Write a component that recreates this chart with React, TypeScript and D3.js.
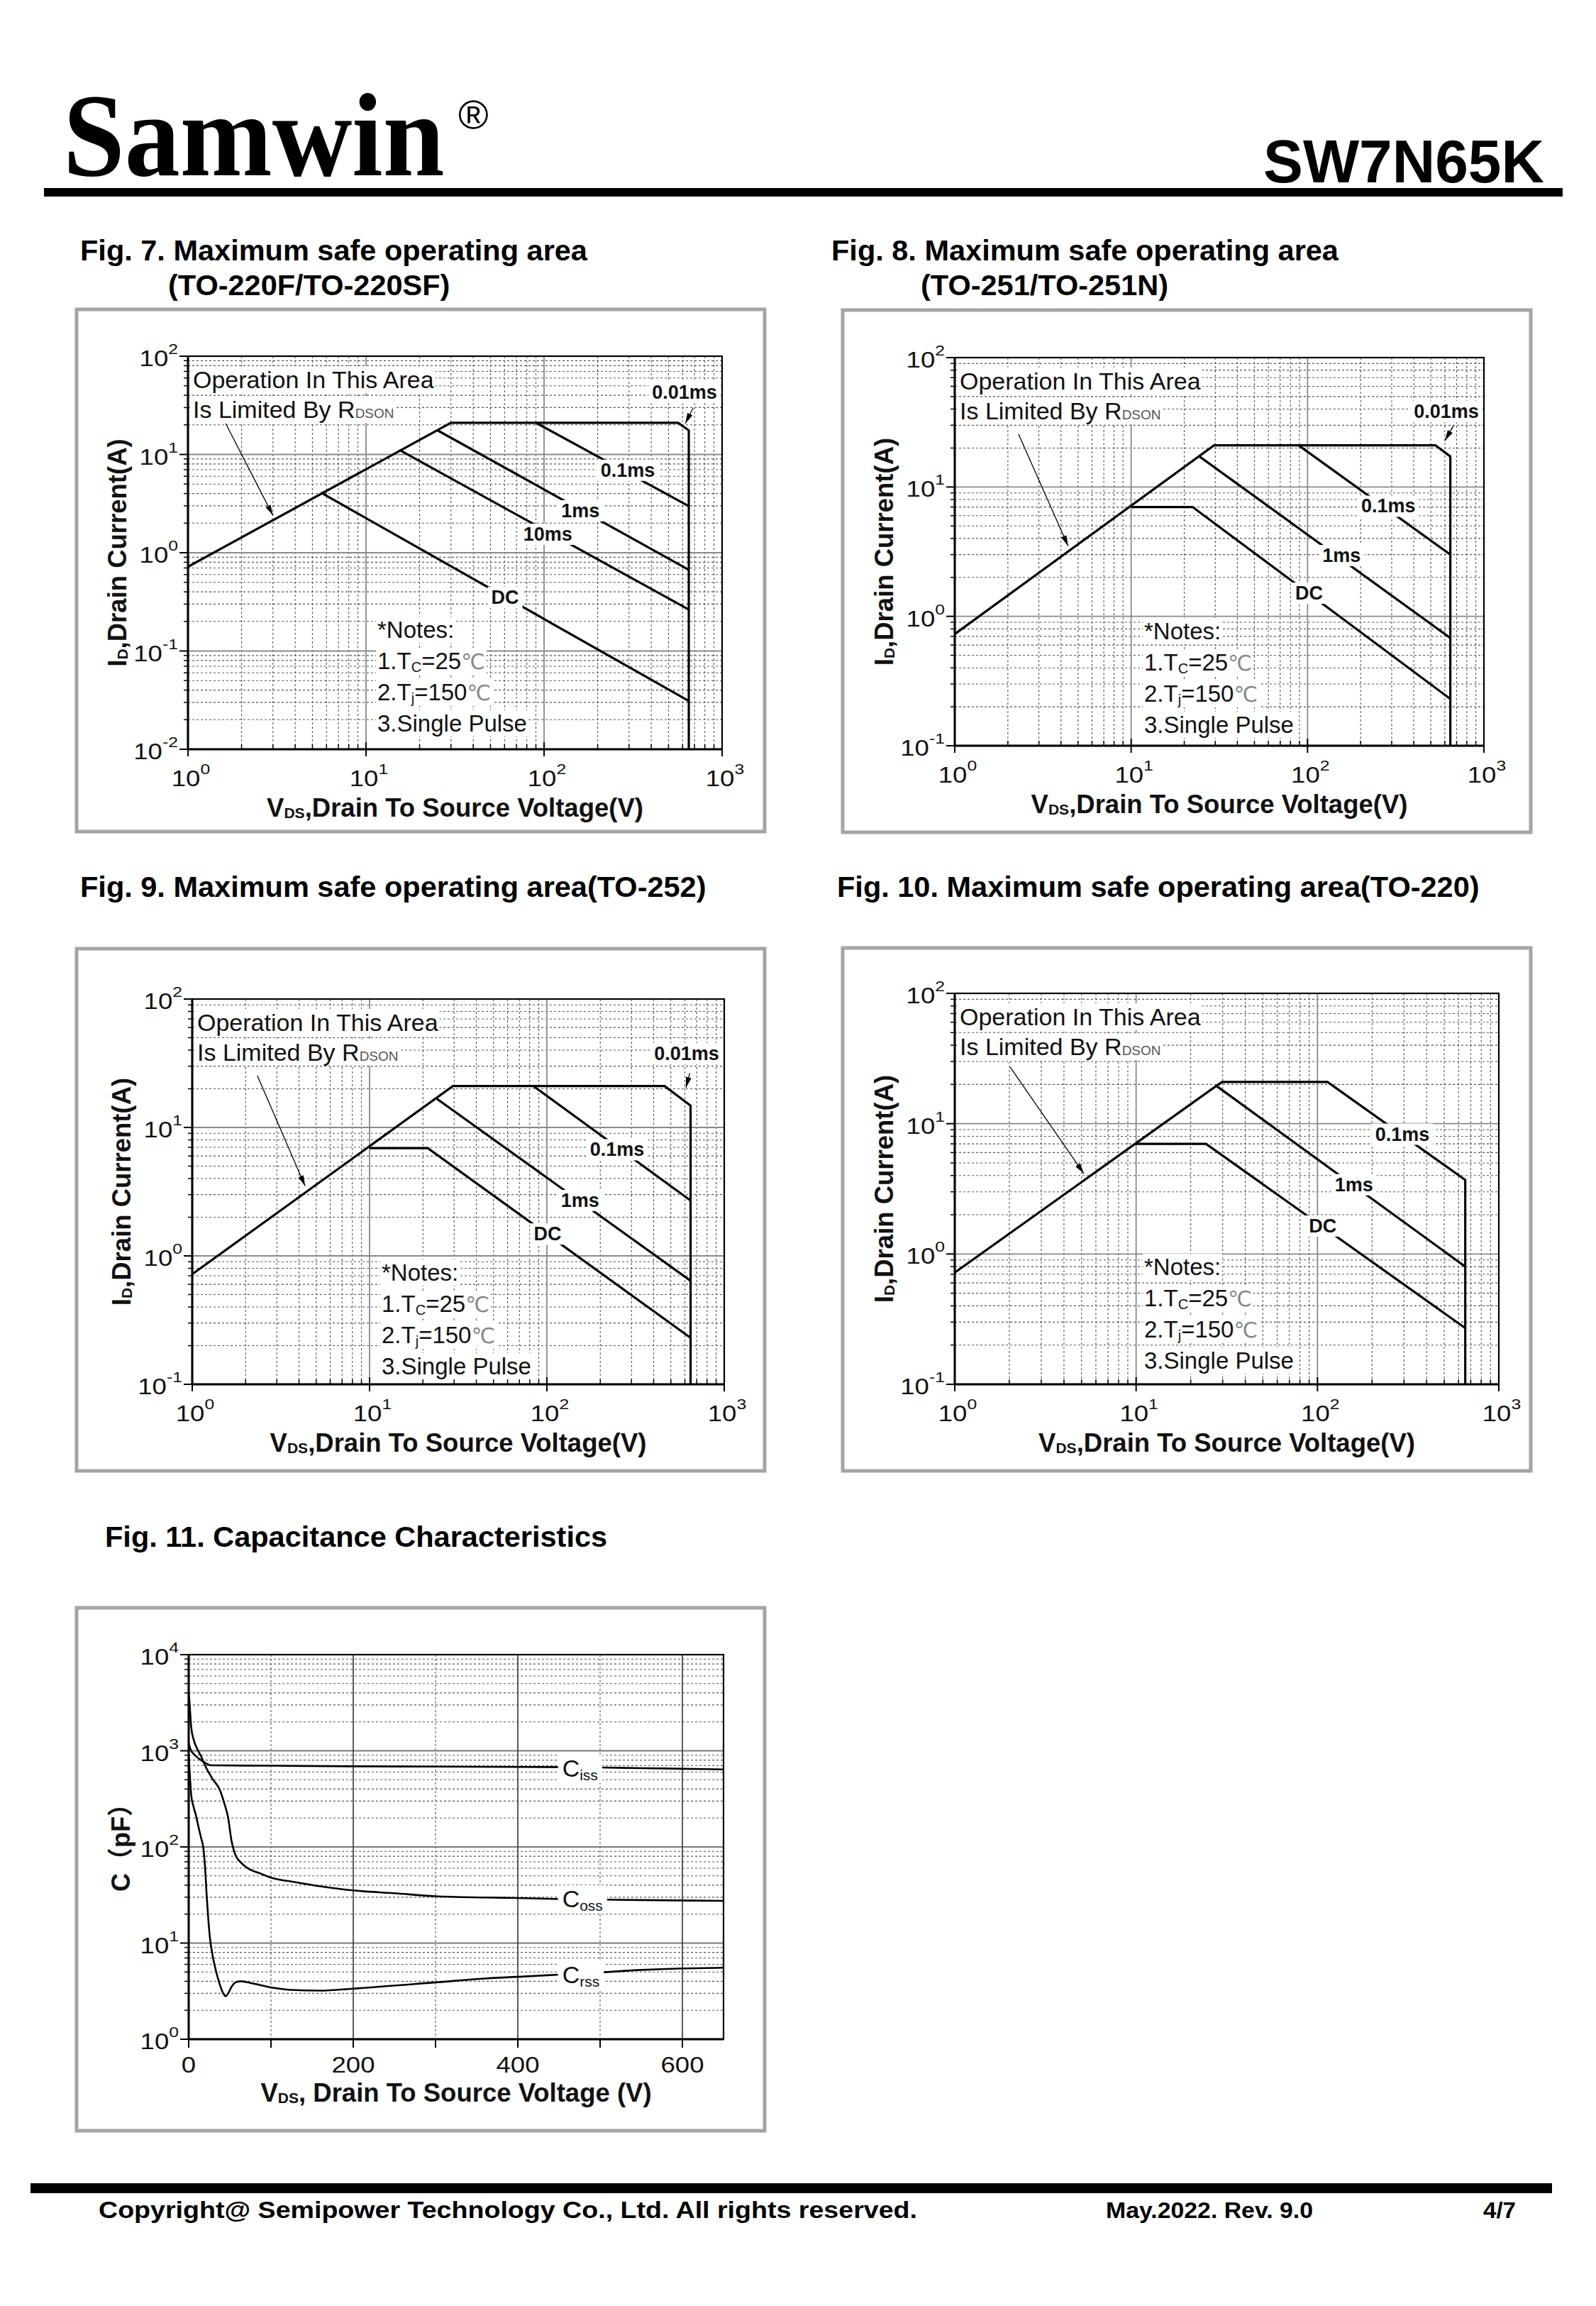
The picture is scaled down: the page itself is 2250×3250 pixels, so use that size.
import React, { useEffect, useRef } from "react";
import * as d3 from "d3";

const SANS = "'Liberation Sans', Arial, Helvetica, sans-serif";
const SERIF = "'Liberation Serif', 'Times New Roman', serif";

type Pt = [number, number];

// ---------------- data ----------------
// Fig. 7 (TO-220F/TO-220SF): [VDS (V), ID (A)]
const f7Limit: Pt[] = [[1, 0.72], [30, 21], [566, 21], [650, 17.6], [650, 0.01]];
const f7P01ms: Pt[] = [[90, 21], [650, 2.98]];
const f7P1ms: Pt[] = [[25.2, 17.6], [650, 0.67]];
const f7P10ms: Pt[] = [[15.4, 11.1], [650, 0.264]];
const f7DC: Pt[] = [[5.57, 4.1], [650, 0.031]];
const f7Labels: [string, number, number][] = [["0.01ms", 615, 42.8], ["0.1ms", 295, 6.9], ["1ms", 160, 2.67], ["10ms", 105, 1.54], ["DC", 60.4, 0.35]];
const f7Arrows: Pt[][] = [[[687, 29.7], [621, 20.6]], [[1.63, 20.6], [3.0, 2.4]]];

// Fig. 8 (TO-251/TO-251N)
const f8Limit: Pt[] = [[1, 0.73], [29.5, 21], [531, 21], [645, 17.2], [645, 0.1]];
const f8P01ms: Pt[] = [[89, 21], [645, 3.0]];
const f8P1ms: Pt[] = [[24.4, 17.2], [645, 0.68]];
const f8DC: Pt[] = [[10, 7.0], [22.3, 7.0], [645, 0.23]];
const f8Labels: [string, number, number][] = [["0.01ms", 612, 38.3], ["0.1ms", 287, 7.1], ["1ms", 156, 2.95], ["DC", 102, 1.51]];
const f8Arrows: Pt[][] = [[[672, 29.7], [601, 22.8]], [[2.3, 25.6], [4.39, 3.5]]];

// Fig. 9 (TO-252)
const f9Limit: Pt[] = [[1, 0.72], [29.5, 21], [461, 21], [646, 14.8], [646, 0.1]];
const f9P01ms: Pt[] = [[84, 21], [646, 2.7]];
const f9P1ms: Pt[] = [[24, 16.7], [646, 0.64]];
const f9DC: Pt[] = [[10, 6.9], [21.3, 6.9], [646, 0.23]];
const f9Labels: [string, number, number][] = [["0.01ms", 614, 37.6], ["0.1ms", 249, 6.7], ["1ms", 154, 2.7], ["DC", 101, 1.48]];
const f9Arrows: Pt[][] = [[[640, 26.5], [608, 20.4]], [[2.33, 25.3], [4.33, 3.5]]];

// Fig. 10 (TO-220)
const f10Limit: Pt[] = [[1, 0.72], [27.7, 19.5], [29.8, 20.9], [113.6, 20.9], [653, 3.7], [653, 0.1]];
const f10P1ms: Pt[] = [[27.7, 19.5], [653, 0.8]];
const f10DC: Pt[] = [[9.9, 7.0], [24.3, 7.0], [653, 0.27]];
const f10Labels: [string, number, number][] = [["0.1ms", 294, 8.3], ["1ms", 159, 3.4], ["DC", 107, 1.64]];
const f10Arrows: Pt[][] = [[[2.02, 27.2], [5.15, 4.14]]];

// Fig. 11 capacitance: [VDS (V), C (pF)]
const capCiss: Pt[] = [[0, 1200], [3, 1000], [6, 930], [10, 860], [15, 800], [20, 750], [25, 712], [30, 705], [100, 700], [200, 690], [300, 685], [400, 680], [500, 670], [550, 660], [600, 650], [650, 640]];
const capCoss: Pt[] = [[0, 4000], [1, 3200], [3, 1780], [6, 1310], [10, 1060], [15, 880], [20, 700], [29, 510], [38, 390], [43, 290], [48, 200], [52, 116], [56, 86], [64, 68], [72, 60], [87, 53], [100, 48], [130, 43], [160, 39], [200, 35.3], [250, 33], [300, 30.7], [360, 29.8], [400, 29.4], [450, 28.7], [550, 28], [650, 27.5]];
const capCrss: Pt[] = [[0, 900], [1, 640], [3, 350], [6, 260], [9, 210], [12, 160], [15, 125], [18, 95], [20, 60], [22, 30], [24, 17], [26, 11], [29, 7.5], [33, 5.2], [37, 3.9], [42, 3.0], [45, 2.8], [48, 3.0], [52, 3.5], [57, 3.9], [63, 4.0], [75, 3.85], [100, 3.46], [124, 3.26], [160, 3.2], [200, 3.36], [300, 3.9], [360, 4.28], [420, 4.55], [450, 4.7], [500, 4.95], [550, 5.25], [600, 5.45], [650, 5.55]];
const capLabels: [string, string, number, number][] = [["C", "iss", 454, 660], ["C", "oss", 454, 28.9], ["C", "rss", 454, 4.7]];
const capXTicks = [0, 100, 200, 300, 400, 500, 600];
const capXLabels = [0, 200, 400, 600];

const notesLines = ["*Notes:", "1.T|C|=25|℃", "2.T|j|=150|℃", "3.Single Pulse"];

type SOACfg = {
  frame: [number, number, number, number];
  plot: [number, number, number, number];
  yDomain: [number, number];
  curves: Pt[][];
  labels: [string, number, number][];
  arrows: Pt[][];
  titles: [string, number, number][];
};

const soaCharts: SOACfg[] = [
  {
    frame: [108, 436, 970, 736], plot: [265, 502, 1018, 1056], yDomain: [0.01, 100],
    curves: [f7Limit, f7P01ms, f7P1ms, f7P10ms, f7DC], labels: f7Labels, arrows: f7Arrows,
    titles: [["Fig. 7. Maximum safe operating area", 113, 367], ["(TO-220F/TO-220SF)", 237, 416]],
  },
  {
    frame: [1188, 437, 970, 736], plot: [1346, 504, 2092, 1051], yDomain: [0.1, 100],
    curves: [f8Limit, f8P01ms, f8P1ms, f8DC], labels: f8Labels, arrows: f8Arrows,
    titles: [["Fig. 8. Maximum safe operating area", 1172, 367], ["(TO-251/TO-251N)", 1298, 416]],
  },
  {
    frame: [108, 1337, 970, 736], plot: [271, 1408, 1021, 1951], yDomain: [0.1, 100],
    curves: [f9Limit, f9P01ms, f9P1ms, f9DC], labels: f9Labels, arrows: f9Arrows,
    titles: [["Fig. 9. Maximum safe operating area(TO-252)", 113, 1264]],
  },
  {
    frame: [1188, 1336, 970, 737], plot: [1346, 1400, 2113, 1951], yDomain: [0.1, 100],
    curves: [f10Limit, f10P1ms, f10DC], labels: f10Labels, arrows: f10Arrows,
    titles: [["Fig. 10. Maximum safe operating area(TO-220)", 1180, 1264]],
  },
];

// ---------------- helpers ----------------
type Sel = d3.Selection<any, any, any, any>;

function withBg(parent: Sel, padX: number, padY: number, build: (t: Sel) => void) {
  const g = parent.append("g");
  const t = g.append("text");
  build(t);
  const bb = (t.node() as SVGTextElement).getBBox();
  g.insert("rect", "text")
    .attr("x", bb.x - padX).attr("y", bb.y - padY)
    .attr("width", bb.width + 2 * padX).attr("height", bb.height + 2 * padY)
    .attr("fill", "#fff");
  return g;
}

function tickLabel10(g: Sel, x: number, y: number, exp: number, anchor: string) {
  const gg = g.append("g").attr("transform", `translate(${x},${y}) scale(1.18,1)`);
  const t = gg.append("text").attr("text-anchor", anchor).attr("font-family", SANS).attr("font-size", 31).attr("fill", "#111");
  t.append("tspan").text("10");
  t.append("tspan").attr("font-size", 21).attr("dy", -17).text(String(exp));
}

function plainTickLabel(g: Sel, x: number, y: number, txt: string) {
  const gg = g.append("g").attr("transform", `translate(${x},${y}) scale(1.18,1)`);
  gg.append("text").attr("text-anchor", "middle").attr("font-family", SANS).attr("font-size", 31).attr("fill", "#111").text(txt);
}

function hLines(g: Sel, vals: number[], s: (v: number) => number, x0: number, x1: number, stroke: string, w: number, dash?: string) {
  const sel = g.append("g").selectAll("line").data(vals).join("line")
    .attr("x1", x0).attr("x2", x1).attr("y1", (d: number) => s(d)).attr("y2", (d: number) => s(d))
    .attr("stroke", stroke).attr("stroke-width", w);
  if (dash) sel.attr("stroke-dasharray", dash);
}
function vLines(g: Sel, vals: number[], s: (v: number) => number, y0: number, y1: number, stroke: string, w: number, dash?: string) {
  const sel = g.append("g").selectAll("line").data(vals).join("line")
    .attr("y1", y0).attr("y2", y1).attr("x1", (d: number) => s(d)).attr("x2", (d: number) => s(d))
    .attr("stroke", stroke).attr("stroke-width", w);
  if (dash) sel.attr("stroke-dasharray", dash);
}

function logMinors(e0: number, e1: number) {
  const out: number[] = [];
  for (let e = e0; e < e1; e++) for (let k = 2; k <= 9; k++) out.push(k * Math.pow(10, e));
  return out;
}
function logMajors(e0: number, e1: number) {
  const out: number[] = [];
  for (let e = e0 + 1; e < e1; e++) out.push(Math.pow(10, e));
  return out;
}

function drawFrame(svg: Sel, f: [number, number, number, number]) {
  svg.append("rect").attr("x", f[0]).attr("y", f[1]).attr("width", f[2]).attr("height", f[3])
    .attr("fill", "#fff").attr("stroke", "#a4a4a4").attr("stroke-width", 5);
}

function drawTitles(svg: Sel, titles: [string, number, number][]) {
  titles.forEach(([t, x, y]) => {
    svg.append("text").attr("x", x).attr("y", y).attr("font-family", SANS).attr("font-weight", "bold")
      .attr("font-size", 41.5).attr("fill", "#000").text(t);
  });
}

function drawNotes(g: Sel, x: number, y: number) {
  notesLines.forEach((line, i) => {
    withBg(g, 2, 0, (t) => {
      t.attr("x", x).attr("y", y + i * 44).attr("font-family", SANS).attr("font-size", 33).attr("fill", "#111");
      const parts = line.split("|");
      if (parts.length === 1) { t.text(line); return; }
      t.append("tspan").text(parts[0]);
      t.append("tspan").attr("font-size", 20).attr("dy", 4).text(parts[1]);
      t.append("tspan").attr("dy", -4).text(parts[2]);
      t.append("tspan").attr("fill", "#888").attr("font-family", "'DejaVu Sans', " + SANS).attr("font-size", 30).text(parts[3]);
    });
  });
}

function drawOperationText(g: Sel, x: number, y: number) {
  withBg(g, 2, 0, (t) => {
    t.attr("x", x).attr("y", y).attr("font-family", SANS).attr("font-size", 34).attr("fill", "#111").text("Operation In This Area");
  });
  withBg(g, 2, 0, (t) => {
    t.attr("x", x).attr("y", y + 42).attr("font-family", SANS).attr("font-size", 34).attr("fill", "#111");
    t.append("tspan").text("Is Limited By R");
    t.append("tspan").attr("font-size", 19).attr("fill", "#555").text("DSON");
  });
}

function xAxisTitle(g: Sel, cx: number, y: number, comma: string) {
  const t = g.append("text").attr("x", cx).attr("y", y).attr("text-anchor", "middle").attr("font-family", SANS)
    .attr("font-weight", "bold").attr("font-size", 36.5).attr("fill", "#111");
  t.append("tspan").text("V");
  t.append("tspan").attr("font-size", 21).attr("dy", 2).text("DS");
  t.append("tspan").attr("dy", -2).text(comma + "Drain To Source Voltage" + (comma === ", " ? " (V)" : "(V)"));
}

// ---------------- SOA chart ----------------
function drawSOA(svg: Sel, c: SOACfg) {
  drawTitles(svg, c.titles);
  drawFrame(svg, c.frame);
  const [x0, y0, x1, y1] = c.plot;
  const xs = d3.scaleLog().domain([1, 1000]).range([x0, x1]);
  const ys = d3.scaleLog().domain(c.yDomain).range([y1, y0]);
  const g = svg.append("g");
  const e0 = Math.round(Math.log10(c.yDomain[0]));
  const e1 = Math.round(Math.log10(c.yDomain[1]));
  const yMinor = logMinors(e0, e1);
  const yMajor = logMajors(e0, e1);
  const xMinor = logMinors(0, 3);
  const xMajor = logMajors(0, 3);

  hLines(g, yMinor, ys, x0, x1, "#555", 1.1, "3,3");
  vLines(g, xMinor, xs, y0, y1, "#555", 1.1, "3,3");
  hLines(g, yMajor, ys, x0, x1, "#8a8a8a", 1.8);
  vLines(g, xMajor, xs, y0, y1, "#8a8a8a", 1.8);

  // ticks
  g.append("g").selectAll("line").data(yMinor).join("line")
    .attr("x1", x0 - 6).attr("x2", x0).attr("y1", (d: number) => ys(d)).attr("y2", (d: number) => ys(d)).attr("stroke", "#000").attr("stroke-width", 1.5);
  g.append("g").selectAll("line").data(d3.range(e0, e1 + 1).map((e) => Math.pow(10, e))).join("line")
    .attr("x1", x0 - 12).attr("x2", x0).attr("y1", (d: number) => ys(d)).attr("y2", (d: number) => ys(d)).attr("stroke", "#000").attr("stroke-width", 2);
  g.append("g").selectAll("line").data(xMinor).join("line")
    .attr("y1", y1 - 7).attr("y2", y1).attr("x1", (d: number) => xs(d)).attr("x2", (d: number) => xs(d)).attr("stroke", "#000").attr("stroke-width", 1.5);
  g.append("g").selectAll("line").data([1, 10, 100, 1000]).join("line")
    .attr("y1", y1 - 10).attr("y2", y1 + 10).attr("x1", (d: number) => xs(d)).attr("x2", (d: number) => xs(d)).attr("stroke", "#000").attr("stroke-width", 2);

  // border
  g.append("rect").attr("x", x0).attr("y", y0).attr("width", x1 - x0).attr("height", y1 - y0)
    .attr("fill", "none").attr("stroke", "#000").attr("stroke-width", 2.2);
  g.append("line").attr("x1", x0).attr("x2", x0).attr("y1", y0).attr("y2", y1).attr("stroke", "#000").attr("stroke-width", 3);
  g.append("line").attr("x1", x0).attr("x2", x1).attr("y1", y1).attr("y2", y1).attr("stroke", "#000").attr("stroke-width", 3);

  // curves
  const line = d3.line<Pt>().x((d) => xs(d[0])).y((d) => ys(d[1]));
  c.curves.forEach((cv) => {
    g.append("path").attr("d", line(cv)).attr("fill", "none").attr("stroke", "#000").attr("stroke-width", 3.2).attr("stroke-linejoin", "miter");
  });

  // arrows
  c.arrows.forEach((a) => {
    g.append("line").attr("x1", xs(a[0][0])).attr("y1", ys(a[0][1])).attr("x2", xs(a[1][0])).attr("y2", ys(a[1][1]))
      .attr("stroke", "#000").attr("stroke-width", 1.3).attr("marker-end", "url(#arrowHead)");
  });

  // labels
  c.labels.forEach(([txt, v, i]) => {
    withBg(g, 5, 0, (t) => {
      t.attr("x", xs(v)).attr("y", ys(i)).attr("text-anchor", "middle").attr("dominant-baseline", "central")
        .attr("font-family", SANS).attr("font-weight", "bold").attr("font-size", 27).attr("fill", "#111").text(txt);
    });
  });

  drawOperationText(g, x0 + 7, y0 + 45);
  drawNotes(g, x0 + 267, y0 + 397);

  // tick labels
  d3.range(e0, e1 + 1).forEach((e) => tickLabel10(g, x0 - 14, ys(Math.pow(10, e)) + 14, e, "end"));
  [0, 1, 2, 3].forEach((e) => tickLabel10(g, xs(Math.pow(10, e)) + 4, y1 + 52, e, "middle"));

  // axis titles
  xAxisTitle(g, (x0 + x1) / 2, y1 + 95, ",");
  const cy = (y0 + y1) / 2;
  const yt = g.append("text").attr("transform", `translate(${x0 - 87},${cy}) rotate(-90)`).attr("text-anchor", "middle")
    .attr("font-family", SANS).attr("font-weight", "bold").attr("font-size", 36.5).attr("fill", "#111");
  yt.append("tspan").text("I");
  yt.append("tspan").attr("font-size", 21).attr("dy", 2).text("D");
  yt.append("tspan").attr("dy", -2).text(",Drain Current(A)");
}

// ---------------- capacitance chart ----------------
function drawCap(svg: Sel) {
  drawTitles(svg, [["Fig. 11. Capacitance Characteristics", 148, 2180]]);
  drawFrame(svg, [108, 2266, 970, 737]);
  const [x0, y0, x1, y1] = [266, 2332, 1020, 2874];
  const xs = d3.scaleLinear().domain([0, 650]).range([x0, x1]);
  const ys = d3.scaleLog().domain([1, 10000]).range([y1, y0]);
  const g = svg.append("g");
  const yMinor = logMinors(0, 4);
  const yMajor = logMajors(0, 4);
  hLines(g, yMinor, ys, x0, x1, "#555", 1.1, "3,3");
  vLines(g, [100, 300, 500], xs, y0, y1, "#555", 1.1, "3,3");
  hLines(g, yMajor, ys, x0, x1, "#777", 1.8);
  vLines(g, [200, 400, 600], xs, y0, y1, "#333", 1.6);

  g.append("g").selectAll("line").data(yMinor).join("line")
    .attr("x1", x0 - 6).attr("x2", x0).attr("y1", (d: number) => ys(d)).attr("y2", (d: number) => ys(d)).attr("stroke", "#000").attr("stroke-width", 1.5);
  g.append("g").selectAll("line").data([1, 10, 100, 1000, 10000]).join("line")
    .attr("x1", x0 - 12).attr("x2", x0).attr("y1", (d: number) => ys(d)).attr("y2", (d: number) => ys(d)).attr("stroke", "#000").attr("stroke-width", 2);
  g.append("g").selectAll("line").data(capXTicks).join("line")
    .attr("y1", y1).attr("y2", y1 + 12).attr("x1", (d: number) => xs(d)).attr("x2", (d: number) => xs(d)).attr("stroke", "#000").attr("stroke-width", 2);

  g.append("rect").attr("x", x0).attr("y", y0).attr("width", x1 - x0).attr("height", y1 - y0)
    .attr("fill", "none").attr("stroke", "#000").attr("stroke-width", 2.2);
  g.append("line").attr("x1", x0).attr("x2", x0).attr("y1", y0).attr("y2", y1).attr("stroke", "#000").attr("stroke-width", 3);
  g.append("line").attr("x1", x0).attr("x2", x1).attr("y1", y1).attr("y2", y1).attr("stroke", "#000").attr("stroke-width", 3);

  const line = d3.line<Pt>().x((d) => xs(d[0])).y((d) => ys(d[1])).curve(d3.curveMonotoneX);
  [capCiss, capCoss, capCrss].forEach((cv) => {
    g.append("path").attr("d", line(cv)).attr("fill", "none").attr("stroke", "#000").attr("stroke-width", 2.6);
  });

  capLabels.forEach(([main, sub, v, c]) => {
    withBg(g, 6, 0, (t) => {
      t.attr("x", xs(v)).attr("y", ys(c) + 12).attr("font-family", SANS).attr("font-size", 34).attr("fill", "#111");
      t.append("tspan").text(main);
      t.append("tspan").attr("font-size", 21).attr("dy", 5).text(sub);
    });
  });

  [0, 1, 2, 3, 4].forEach((e) => tickLabel10(g, x0 - 14, ys(Math.pow(10, e)) + 14, e, "end"));
  capXLabels.forEach((v) => plainTickLabel(g, xs(v), y1 + 47, String(v)));

  xAxisTitle(g, (x0 + x1) / 2, y1 + 88, ", ");
  const cy = (y0 + y1) / 2;
  g.append("text").attr("transform", `translate(${x0 - 83},${cy - 8}) rotate(-90)`).attr("text-anchor", "middle")
    .attr("font-family", SANS + ", 'Noto Sans CJK SC'").attr("font-weight", "bold").attr("font-size", 36).attr("fill", "#111")
    .text("C（pF）");
}

// ---------------- page ----------------
function drawPage(svg: Sel) {
  const defs = svg.append("defs");
  defs.append("marker").attr("id", "arrowHead").attr("viewBox", "0 0 10 10").attr("refX", 10).attr("refY", 5)
    .attr("markerWidth", 15).attr("markerHeight", 8).attr("markerUnits", "userSpaceOnUse")
    .attr("preserveAspectRatio", "none").attr("orient", "auto")
    .append("path").attr("d", "M0,0 L10,5 L0,10 Z").attr("fill", "#000");

  svg.append("rect").attr("x", 0).attr("y", 0).attr("width", 2250).attr("height", 3250).attr("fill", "#fff");

  // header
  svg.append("g").attr("transform", "translate(89,247) scale(1,1.07)")
    .append("text").attr("x", 0).attr("y", 0).attr("font-family", SERIF).attr("font-weight", "bold")
    .attr("font-size", 156).attr("fill", "#000").text("Samwin");
  svg.append("text").attr("x", 646).attr("y", 182).attr("font-family", SANS).attr("font-size", 58).attr("fill", "#000").text("®");
  svg.append("text").attr("x", 2177).attr("y", 257).attr("text-anchor", "end").attr("font-family", SANS).attr("font-weight", "bold")
    .attr("font-size", 86).attr("textLength", 396).attr("lengthAdjust", "spacingAndGlyphs").attr("fill", "#000").text("SW7N65K");
  svg.append("rect").attr("x", 62).attr("y", 265).attr("width", 2141).attr("height", 12).attr("fill", "#000");

  soaCharts.forEach((c) => drawSOA(svg, c));
  drawCap(svg);

  // footer
  svg.append("rect").attr("x", 43).attr("y", 3077).attr("width", 2145).attr("height", 14).attr("fill", "#000");
  const foot = (x: number, txt: string, len: number, fs: number) =>
    svg.append("text").attr("x", x).attr("y", 3126).attr("font-family", SANS).attr("font-weight", "bold")
      .attr("font-size", fs).attr("textLength", len).attr("lengthAdjust", "spacingAndGlyphs").attr("fill", "#000").text(txt);
  foot(139, "Copyright@ Semipower Technology Co., Ltd. All rights reserved.", 1154, 34);
  foot(1559, "May.2022. Rev. 9.0", 292, 31);
  foot(2091, "4/7", 46, 31);
}

export default function App() {
  const ref = useRef<SVGSVGElement>(null);
  useEffect(() => {
    const svg = d3.select(ref.current as SVGSVGElement);
    svg.selectAll("*").remove();
    drawPage(svg as unknown as Sel);
  }, []);
  return (
    <svg ref={ref} width={2250} height={3250}
      style={{ position: "absolute", left: 0, top: 0, background: "#fff", display: "block" }} />
  );
}
